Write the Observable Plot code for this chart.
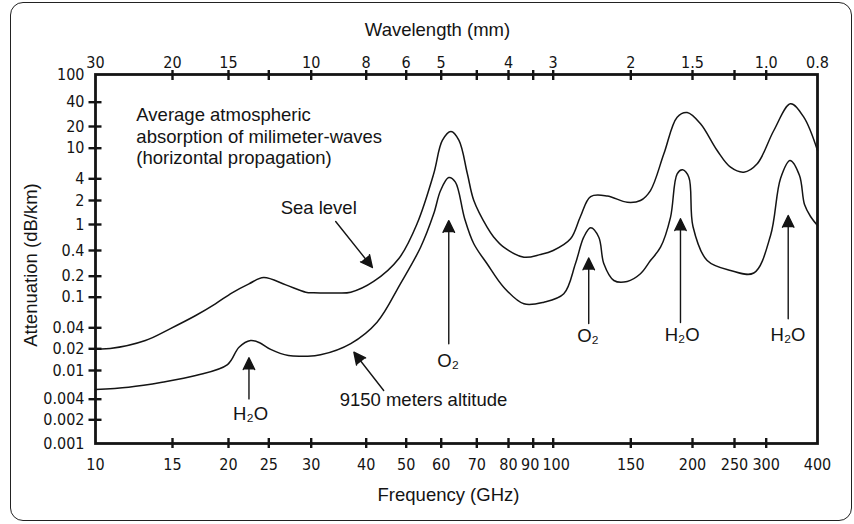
<!DOCTYPE html>
<html>
<head>
<meta charset="utf-8">
<script src="https://cdn.jsdelivr.net/npm/d3@7"></script>
<script src="https://cdn.jsdelivr.net/npm/@observablehq/plot@0.6"></script>
<style>
  html, body { margin: 0; padding: 0; background: #fff; }
  #wrap { position: relative; width: 854px; height: 524px; overflow: hidden; }
  #border { position: absolute; left: 10px; top: 2px; width: 842px; height: 519px; box-sizing: border-box;
            border: 1.5px solid #222; border-radius: 13px; pointer-events: none; }
  #chart { position: absolute; left: 0; top: 0; }
</style>
</head>
<body>
<div id="wrap"><div id="chart"></div><div id="border"></div></div>
<script>
// ---- Data ----
// Frequency tick values (GHz), bottom axis
const freqTicks = [10, 15, 20, 25, 30, 40, 50, 60, 70, 80, 90, 100, 150, 200, 250, 300, 400];
// Attenuation tick values (dB/km), left axis
const attenTicks = [0.001, 0.002, 0.004, 0.01, 0.02, 0.04, 0.1, 0.2, 0.4, 1, 2, 4, 10, 20, 40, 100];
// Top axis: wavelength labels (mm) at frequency positions
const topLabelFreqs = [10, 15, 20, 30, 40, 50, 60, 80, 100, 150, 200, 300, 400];
const wavelengthLabels = ["30", "20", "15", "10", "8", "6", "5", "4", "3", "2", "1.5", "1.0", "0.8"];

// Sea level curve
const seaFreq = [10, 10.8, 13.0, 14.8, 16.9, 18.7, 20.4, 22.4, 24.3, 26.9, 29.3, 30.4, 34.1, 36.9, 41.7, 48.0, 52.9, 57.7, 60.3, 62.6, 64.8, 67.2, 69.1, 73.1, 75.2, 78.4, 86.1, 93.5, 100, 109.5, 115.3, 121.6, 132.6, 147.2, 156.9, 164.4, 175, 186.2, 195.1, 208.7, 228, 244.8, 263.8, 284.9, 313.1, 343.9, 370.4, 400];
const seaAtten = [0.020, 0.0202, 0.0263, 0.0387, 0.0578, 0.082, 0.1156, 0.1556, 0.1915, 0.150, 0.118, 0.1156, 0.115, 0.118, 0.168, 0.322, 1.02, 4.65, 12.8, 17.0, 12.8, 4.65, 2.0, 0.909, 0.639, 0.449, 0.334, 0.359, 0.4, 0.604, 1.26, 2.27, 2.31, 1.90, 2.0, 2.75, 8.46, 26.1, 29.8, 21.6, 9.33, 5.66, 4.88, 6.27, 17.6, 38.2, 26.1, 9.33];

// 9150 m altitude curve
const altFreq = [10, 11.9, 14.2, 16.9, 19.9, 21.2, 22.6, 23.7, 25.2, 27.2, 29.3, 31.5, 36.9, 42.5, 48.4, 53.9, 57.7, 59.8, 62.0, 63.8, 66.4, 69.1, 73.1, 78.4, 86.1, 95.2, 105.7, 112.3, 117.3, 121.6, 126.9, 130.3, 137.3, 147.2, 156.9, 164.4, 172.3, 180.5, 186.2, 190.9, 196.6, 200.5, 216.2, 244.8, 279.3, 307.4, 325.1, 342.9, 361.6, 371.9, 384.7, 400];
const altAtten = [0.00545, 0.00587, 0.00688, 0.00853, 0.0121, 0.0211, 0.0263, 0.0246, 0.0196, 0.0161, 0.0158, 0.0165, 0.0238, 0.0473, 0.1556, 0.449, 1.36, 2.75, 4.16, 3.59, 1.19, 0.507, 0.2795, 0.139, 0.082, 0.0861, 0.1119, 0.2795, 0.639, 0.89, 0.639, 0.2795, 0.1735, 0.168, 0.2134, 0.305, 0.449, 1.23, 4.65, 5.24, 4.20, 0.932, 0.305, 0.2333, 0.218, 0.679, 4.04, 6.92, 4.42, 1.78, 1.26, 0.965];

// Annotation arrows (tail -> head), in GHz and dB/km
const arrowX1 = [34.1, 44.1, 22.4, 62.0, 120.4, 189.1, 339.4];
const arrowY1 = [1.09, 0.00528, 0.00404, 0.0236, 0.0455, 0.0469, 0.0524];
const arrowX2 = [41.4, 37.5, 22.4, 62.0, 120.4, 189.1, 339.4];
const arrowY2 = [0.253, 0.01794, 0.015, 1.12, 0.3267, 1.18, 1.297];

// Annotation labels
const noteText = ["Sea level", "9150 meters altitude", "H₂O", "O₂", "O₂", "H₂O", "H₂O"];
const noteX = [31.2, 54.7, 22.6, 61.8, 119.9, 190.6, 339.0];
const noteY = [1.59, 0.00383, 0.00243, 0.01333, 0.030, 0.031, 0.031];

const titleText = "Average atmospheric\nabsorption of milimeter-waves\n(horizontal propagation)";
const titleX = 12.4, titleY = 35.9;

// ---- Chart ----
const ink = "#141414";
const textFont = "'Liberation Sans', Arial, sans-serif";
const tickFont = "'DejaVu Sans Condensed', 'Liberation Sans Narrow', sans-serif";

const inner = (arr) => arr.slice(1, -1);
const crowded = [90, 100]; // labels nudged apart, as in the original
const sea = seaFreq.map((f, i) => ({f, a: seaAtten[i]}));
const alt = altFreq.map((f, i) => ({f, a: altAtten[i]}));
const arrows = arrowX1.map((x1, i) => ({x1, y1: arrowY1[i], x2: arrowX2[i], y2: arrowY2[i]}));
const notes = noteText.map((t, i) => ({t, x: noteX[i], y: noteY[i]}));

const chart = Plot.plot({
  width: 854,
  height: 524,
  marginLeft: 95, marginRight: 37, marginTop: 74, marginBottom: 81,
  style: {fontFamily: tickFont, fontSize: "16px", color: ink, background: "transparent", overflow: "visible"},
  x: {type: "log", domain: freqTicks,
      range: [95, 172, 228, 268.3, 310.7, 365.7, 405.7, 440.7, 476.3, 508, 532.7, 552.7, 630.3, 692, 734, 765.7, 817]},
  y: {type: "log", domain: attenTicks,
      range: [443, 419.3, 398.7, 370, 348.3, 327.3, 296.7, 275.7, 250, 224, 200, 178.3, 147.7, 126, 101.7, 74]},
  marks: [
    // tick marks crossing the frame
    Plot.axisX(inner(freqTicks), {anchor: "bottom", tickSize: 10, dy: -5, fill: "none", strokeWidth: 2.4, label: null}),
    Plot.axisX(inner(freqTicks), {anchor: "top", tickSize: 10, dy: 5, fill: "none", strokeWidth: 2.4, label: null}),
    Plot.axisY(inner(attenTicks), {anchor: "left", tickSize: 13, dx: 6.5, fill: "none", strokeWidth: 2.4, label: null}),
    // tick labels
    Plot.axisX(freqTicks.filter((d) => !crowded.includes(d)), {anchor: "bottom", tickSize: 0, tickPadding: 15, label: null, text: (d) => String(d)}),
    Plot.axisX([crowded[0]], {anchor: "bottom", tickSize: 0, tickPadding: 15, dx: -3, label: null, text: (d) => String(d)}),
    Plot.axisX([crowded[1]], {anchor: "bottom", tickSize: 0, tickPadding: 15, dx: 3, label: null, text: (d) => String(d)}),
    Plot.axisX(topLabelFreqs, {anchor: "top", tickSize: 0, tickPadding: 7, label: null,
      text: (d) => wavelengthLabels[topLabelFreqs.indexOf(d)]}),
    Plot.axisY(attenTicks, {anchor: "left", tickSize: 0, tickPadding: 11, label: null, text: (d) => String(d)}),
    // axis titles
    Plot.text(["Wavelength (mm)"], {frameAnchor: "top", text: (d) => d, textAnchor: "middle", dx: -19, dy: -44, lineAnchor: "middle",
      fontFamily: textFont, fontSize: 18.5, fill: ink}),
    Plot.text(["Frequency (GHz)"], {frameAnchor: "bottom", text: (d) => d, textAnchor: "middle", dx: -8, dy: 52, lineAnchor: "middle",
      fontFamily: textFont, fontSize: 18.5, fill: ink}),
    Plot.text(["Attenuation (dB/km)"], {frameAnchor: "left", text: (d) => d, textAnchor: "middle", rotate: -90, dx: -64, dy: 6, lineAnchor: "middle",
      fontFamily: textFont, fontSize: 18.5, fill: ink}),
    // curves
    Plot.line(sea, {x: "f", y: "a", curve: "catmull-rom", stroke: ink, strokeWidth: 1.5}),
    Plot.line(alt, {x: "f", y: "a", curve: "catmull-rom", stroke: ink, strokeWidth: 1.5}),
    // arrows
    Plot.arrow(arrows, {x1: "x1", y1: "y1", x2: "x2", y2: "y2", stroke: ink, fill: ink, strokeWidth: 1.4,
      headLength: 14, headAngle: 52, strokeLinejoin: "miter"}),
    // annotation text
    Plot.text(notes, {x: "x", y: "y", text: "t", lineAnchor: "middle", fontFamily: textFont, fontSize: 18.5, fill: ink}),
    Plot.text([titleText], {x: () => titleX, y: () => titleY, text: (d) => d, textAnchor: "start", lineAnchor: "top",
      lineHeight: 1.16, fontFamily: textFont, fontSize: 18.5, fill: ink}),
    // frame
    Plot.frame({stroke: ink, strokeWidth: 2.8})
  ]
});
document.getElementById("chart").appendChild(chart);
</script>
</body>
</html>
